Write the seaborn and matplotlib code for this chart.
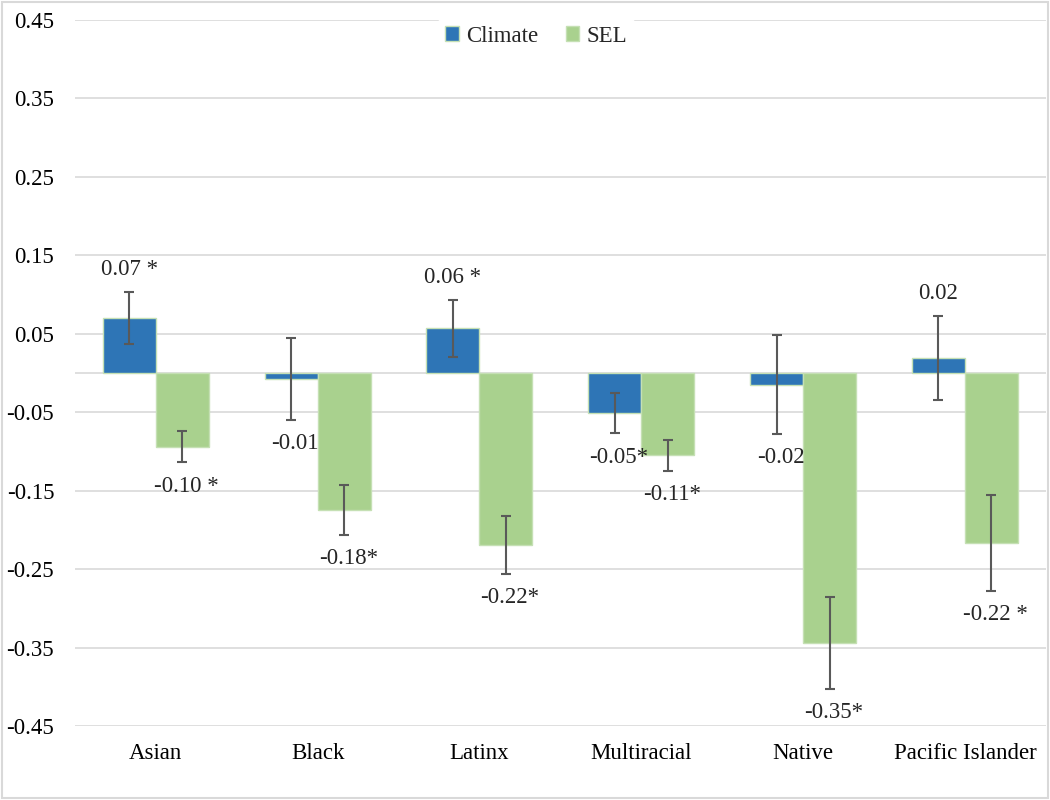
import pandas as pd
import numpy as np
import matplotlib.pyplot as plt
import seaborn as sns
from matplotlib.patches import Rectangle

groups = ['Asian', 'Black', 'Latinx', 'Multiracial', 'Native', 'Pacific Islander']
climate = [0.070, -0.008, 0.057, -0.051, -0.015, 0.019]
sel = [-0.094, -0.175, -0.219, -0.105, -0.344, -0.217]
climate_err = [0.033, 0.052, 0.036, 0.026, 0.063, 0.054]
sel_err = [0.020, 0.032, 0.037, 0.020, 0.059, 0.061]
climate_labels = ['0.07 *', '-0.01', '0.06 *', '-0.05*', '-0.02', '0.02']
sel_labels = ['-0.10 *', '-0.18*', '-0.22*', '-0.11*', '-0.35*', '-0.22 *']

df = pd.DataFrame({
    'group': groups * 2,
    'series': ['Climate'] * len(groups) + ['SEL'] * len(groups),
    'value': climate + sel,
})

sns.set_style('white')
plt.rcParams['font.family'] = ['Liberation Serif', 'DejaVu Serif']
FS = 16.5

fig = plt.figure(figsize=(10.5, 8), dpi=100)
ax = fig.add_axes([0.0714, 0.0925, 0.9246, 0.8825])

sns.barplot(data=df, x='group', y='value', hue='series', order=groups,
            hue_order=['Climate', 'SEL'], palette=['#2E75B6', '#A9D18E'],
            saturation=1, width=0.655, edgecolor='#C5E0B4', linewidth=1,
            errorbar=None, ax=ax)

# error bars + value labels on top of the seaborn bars
for cont, vals, errs, labs in zip(ax.containers, [climate, sel],
                                  [climate_err, sel_err],
                                  [climate_labels, sel_labels]):
    xs = [p.get_x() + p.get_width() / 2 for p in cont.patches]
    ax.errorbar(xs, vals, yerr=errs, fmt='none', ecolor='#595959',
                elinewidth=1.5, capsize=3.5, capthick=1.5, zorder=3)
    for x, v, e, lab in zip(xs, vals, errs, labs):
        if lab[0] != '-':
            ax.annotate(lab, (x, v + e), xytext=(0, 16), textcoords='offset points',
                        ha='center', va='center', fontsize=FS)
        else:
            ax.annotate(lab, (x, v - e), xytext=(3, -17), textcoords='offset points',
                        ha='center', va='center', fontsize=FS)

ax.set_xlim(-0.5, len(groups) - 0.5)
ax.set_ylim(-0.45, 0.45)
ticks = np.arange(-0.45, 0.46, 0.1)
ax.set_yticks(ticks)
ax.set_yticklabels([f'{t:.2f}' for t in ticks])
ax.axhline(0, color='#D9D9D9', lw=1.2, zorder=0.5)
ax.grid(axis='y', color='#D9D9D9', lw=1.2)
ax.set_axisbelow(True)
for s in ax.spines.values():
    s.set_visible(False)
ax.tick_params(axis='both', length=0, labelsize=FS, colors='black')
ax.tick_params(axis='y', pad=15)
ax.tick_params(axis='x', pad=12)
ax.set_xlabel('')
ax.set_ylabel('')

leg = ax.legend(loc='upper center', bbox_to_anchor=(0.475, 1.018), ncol=2,
                frameon=True, fontsize=FS, handlelength=0.6, handleheight=0.6,
                columnspacing=1.2, handletextpad=0.3, borderpad=0.3)
leg.get_frame().set_edgecolor('white')
leg.get_frame().set_facecolor('white')
leg.get_frame().set_alpha(1)

fig.patches.append(Rectangle((0.002, 0.002), 0.996, 0.996, transform=fig.transFigure,
                             fill=False, edgecolor='#D9D9D9', lw=1.5))

fig.savefig('out.png', dpi=100)
